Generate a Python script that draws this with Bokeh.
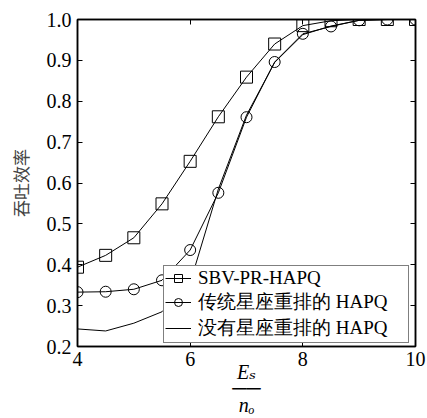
from bokeh.plotting import figure
from bokeh.models import (ColumnDataSource, LinearAxis, Range1d, Legend, LegendItem,
                          FixedTicker)
from bokeh.embed import file_html
from bokeh.resources import INLINE

# ---- data ----
snr = [4, 4.5, 5, 5.5, 6, 6.5, 7, 7.5, 8, 8.5, 9, 9.5, 10]
sbv_pr_hapq = [0.394, 0.423, 0.466, 0.549, 0.653, 0.762, 0.859, 0.940, 0.985, 0.997, 1.0, 1.0, 1.0]
trad_hapq = [0.333, 0.334, 0.340, 0.362, 0.436, 0.576, 0.761, 0.896, 0.965, 0.983, 0.998, 1.0, 1.0]
no_rearr_hapq = [0.243, 0.238, 0.257, 0.285, 0.356, 0.585, 0.766, 0.895, 0.963, 0.984, 0.998, 1.0, 1.0]

series_names = ["SBV-PR-HAPQ", "传统星座重排的 HAPQ", "没有星座重排的 HAPQ"]
x_ticks = [4, 6, 8, 10]
y_ticks = [0.2, 0.3, 0.4, 0.5, 0.6, 0.7, 0.8, 0.9, 1.0]
y_title = "吞吐效率"
x_title = "Eₛ\n──\nnₒ"

SERIF = "Times New Roman, Liberation Serif, DejaVu Serif, serif"

p = figure(width=427, height=418, output_backend="svg", toolbar_location=None,
           x_range=Range1d(4, 10), y_range=Range1d(0.2, 1.0),
           min_border_left=77, min_border_right=12, min_border_top=19, min_border_bottom=72,
           x_axis_location=None, y_axis_location=None)
p.xgrid.visible = False
p.ygrid.visible = False
p.outline_line_color = "black"
p.outline_line_width = 1.5
p.background_fill_color = "white"
p.border_fill_color = "white"


def style_axis(ax, ticks, show_labels):
    ax.ticker = FixedTicker(ticks=ticks)
    ax.axis_line_color = "black"
    ax.axis_line_width = 1.5
    ax.major_tick_in = 5
    ax.major_tick_out = 0
    ax.minor_tick_in = 0
    ax.minor_tick_out = 0
    ax.major_tick_line_color = "black"
    ax.major_tick_line_width = 1
    if show_labels:
        ax.major_label_text_font = SERIF
        ax.major_label_text_font_size = "20px"
        ax.major_label_text_color = "black"
    else:
        ax.major_label_overrides = {t: "" for t in ticks}
        ax.major_label_text_font_size = "1px"
        ax.major_label_standoff = 0


xb = LinearAxis()
style_axis(xb, x_ticks, True)
xb.major_label_standoff = 5
xb.axis_label = x_title
xb.axis_label_text_font = SERIF
xb.axis_label_text_font_style = "italic"
xb.axis_label_text_font_size = "20px"
xb.axis_label_text_line_height = 0.75
xb.axis_label_standoff = -8
xb.axis_label_text_color = "black"

yl = LinearAxis()
style_axis(yl, y_ticks, True)
yl.major_label_standoff = 6
yl.major_label_overrides = {t: f"{t:.1f}" for t in y_ticks}
yl.axis_label = y_title
yl.axis_label_text_font = "Noto Sans CJK SC"
yl.axis_label_text_font_style = "normal"
yl.axis_label_text_font_size = "17px"
yl.axis_label_text_color = "#444444"
yl.axis_label_standoff = 11

xt = LinearAxis(); style_axis(xt, x_ticks, False)
yr = LinearAxis(); style_axis(yr, y_ticks, False)
p.add_layout(xb, "below")
p.add_layout(yl, "left")
p.add_layout(xt, "above")
p.add_layout(yr, "right")

src = ColumnDataSource(dict(x=snr, a=sbv_pr_hapq, b=trad_hapq, c=no_rearr_hapq))

l1 = p.line("x", "a", source=src, line_color="black", line_width=1)
m1 = p.scatter("x", "a", source=src, marker="square", size=12, fill_alpha=0,
               line_color="black", line_width=1)
l2 = p.line("x", "b", source=src, line_color="black", line_width=1)
m2 = p.scatter("x", "b", source=src, marker="circle", size=11, fill_alpha=0,
               line_color="black", line_width=1)
l3 = p.line("x", "c", source=src, line_color="black", line_width=1)

legend = Legend(items=[
    LegendItem(label=series_names[0], renderers=[l1, m1]),
    LegendItem(label=series_names[1], renderers=[l2, m2]),
    LegendItem(label=series_names[2], renderers=[l3]),
], location=(86, 3))
legend.label_text_font = SERIF
legend.label_text_font_size = "19px"
legend.label_text_color = "black"
legend.label_height = 20
legend.label_width = 209
legend.glyph_height = 20
legend.glyph_width = 26
legend.label_standoff = 7
legend.spacing = 0
legend.padding = 1
legend.margin = 0
legend.border_line_color = "black"
legend.border_line_width = 1.5
legend.background_fill_alpha = 1
p.add_layout(legend, "center")

open("out.html", "w").write(file_html(p, INLINE))
